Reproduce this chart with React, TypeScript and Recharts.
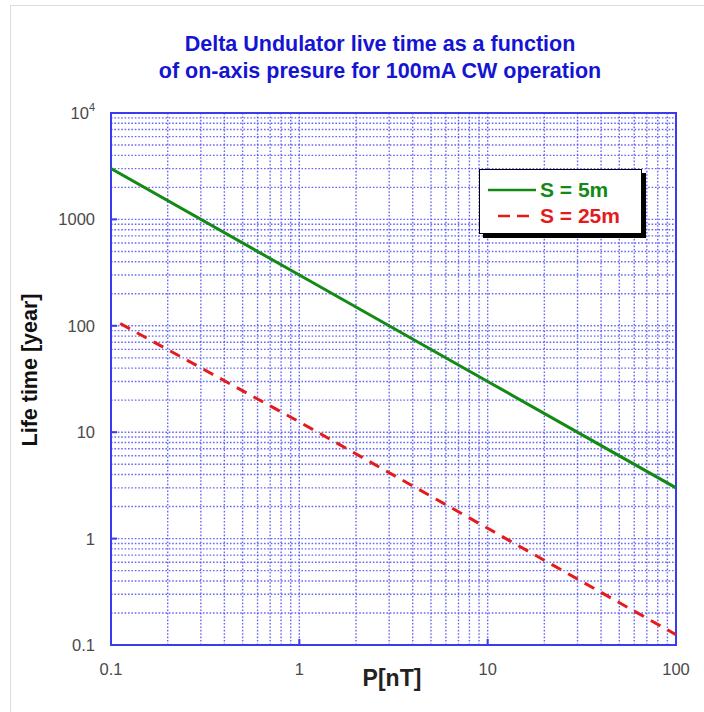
import React from 'react';
import { LineChart, Line, XAxis, YAxis, CartesianGrid, ReferenceArea } from 'recharts';

const pressureGreen = [0.1, 1, 10, 100];
const lifeGreen = [3000, 300, 30, 3];
const pressureRed = [0.112, 1, 10, 100];
const lifeRed = [105, 12.5, 1.25, 0.125];

const xMajor = [0.1, 1, 10, 100];
const yMajor = [0.1, 1, 10, 100, 1000, 10000];
const yLabels = ['0.1', '1', '10', '100', '1000', '10^4'];
const xLabels = ['0.1', '1', '10', '100'];
const minorSteps = [1, 2, 3, 4, 5, 6, 7, 8, 9];

const seriesNames = ['S = 5m', 'S = 25m'];
const title = ['Delta Undulator live time as a function', 'of on-axis presure for 100mA CW operation'];

const greenData = pressureGreen.map((p, i) => ({ p, t: lifeGreen[i] }));
const redData = pressureRed.map((p, i) => ({ p, t: lifeRed[i] }));

const buildTicks = (majors: number[]) => {
  const out: number[] = [];
  majors.forEach((m, i) => {
    if (i < majors.length - 1) minorSteps.forEach((k) => out.push(+(m * k).toPrecision(3)));
    else out.push(m);
  });
  return out;
};
const xTicks = buildTicks(xMajor);
const yTicks = buildTicks(yMajor);

const GREEN = '#138a13';
const RED = '#e51b1b';
const BLUE = '#3a3af0';
const GRID = '#4d4df2';
const FONT = '"Liberation Sans", Arial, sans-serif';

const Y_MARGIN = 16;
const X_MARGIN = 18;

const isMajor = (v: number, majors: number[]) => majors.some((m) => Math.abs(m - v) / m < 1e-6);

const YTick = (props: any) => {
  const { x, y, payload } = props;
  const v = payload.value;
  if (!isMajor(v, yMajor)) return null;
  const idx = yMajor.findIndex((m) => Math.abs(m - v) / m < 1e-6);
  const label = yLabels[idx];
  const ax = x + Y_MARGIN;
  return (
    <g>
      <line x1={ax} x2={ax + 6} y1={y} y2={y} stroke={BLUE} strokeWidth={2} />
      {label === '10^4' ? (
        <text x={x} y={y + 6} textAnchor="end" fontFamily={FONT} fontSize={16.5} fill="#4a4a4a">
          10<tspan dy={-8} fontSize={11}>4</tspan>
        </text>
      ) : (
        <text x={x} y={y + 6} textAnchor="end" fontFamily={FONT} fontSize={16.5} fill="#4a4a4a">
          {label}
        </text>
      )}
    </g>
  );
};

const XTick = (props: any) => {
  const { x, y, payload } = props;
  const v = payload.value;
  if (!isMajor(v, xMajor)) return null;
  const idx = xMajor.findIndex((m) => Math.abs(m - v) / m < 1e-6);
  const ay = y - X_MARGIN;
  return (
    <g>
      <line x1={x} x2={x} y1={ay} y2={ay - 6} stroke={BLUE} strokeWidth={2} />
      <text x={x} y={y + 12} textAnchor="middle" fontFamily={FONT} fontSize={16.5} fill="#4a4a4a">
        {xLabels[idx]}
      </text>
    </g>
  );
};

const LegendBox = () => (
  <div
    style={{
      position: 'absolute',
      left: 479,
      top: 169,
      width: 161,
      height: 63,
      background: '#fff',
      border: '1px solid #000',
      boxShadow: '4px 4px 0 #000',
      fontFamily: FONT,
      fontWeight: 'bold',
      fontSize: 21,
    }}
  >
    <div style={{ position: 'absolute', left: 8, top: 7, display: 'flex', alignItems: 'center', lineHeight: '26px' }}>
      <svg width={48} height={6}>
        <line x1={0} x2={48} y1={3} y2={3} stroke={GREEN} strokeWidth={2.5} />
      </svg>
      <span style={{ color: GREEN, marginLeft: 4 }}>{seriesNames[0]}</span>
    </div>
    <div style={{ position: 'absolute', left: 8, top: 33, display: 'flex', alignItems: 'center', lineHeight: '26px' }}>
      <svg width={48} height={6}>
        <line x1={10} x2={48} y1={3} y2={3} stroke={RED} strokeWidth={2.5} strokeDasharray="12 7" />
      </svg>
      <span style={{ color: RED, marginLeft: 4 }}>{seriesNames[1]}</span>
    </div>
  </div>
);

export default function App() {
  return (
    <div style={{ position: 'absolute', left: 0, top: 0, width: 704, height: 712, background: '#fff', overflow: 'hidden' }}>
      <div
        style={{
          position: 'absolute',
          left: 10,
          top: 5,
          width: 694,
          height: 707,
          borderLeft: '1px solid #ddd',
          borderTop: '1px solid #ddd',
        }}
      />
      <div
        style={{
          position: 'absolute',
          left: 80,
          top: 31,
          width: 600,
          textAlign: 'center',
          color: '#1414d2',
          fontFamily: FONT,
          fontWeight: 'bold',
          fontSize: 21.5,
          lineHeight: '27px',
        }}
      >
        <div>{title[0]}</div>
        <div>{title[1]}</div>
      </div>
      <div
        style={{
          position: 'absolute',
          left: 30,
          top: 370,
          transform: 'translate(-50%, -50%) rotate(-90deg)',
          whiteSpace: 'nowrap',
          fontFamily: FONT,
          fontWeight: 'bold',
          fontSize: 21.5,
          color: '#111',
        }}
      >
        Life time [year]
      </div>
      <div
        style={{
          position: 'absolute',
          left: 392,
          top: 678,
          transform: 'translate(-50%, -50%)',
          whiteSpace: 'nowrap',
          fontFamily: FONT,
          fontWeight: 'bold',
          fontSize: 23,
          color: '#222',
        }}
      >
        P[nT]
      </div>
      <div style={{ position: 'absolute', left: 0, top: 0 }}>
        <LineChart width={704} height={712} margin={{ top: 113, right: 28, bottom: 0, left: 0 }}>
          <CartesianGrid stroke={GRID} strokeWidth={1.4} strokeDasharray="1.6 1.8" strokeOpacity={0.85} />
          <XAxis
            dataKey="p"
            type="number"
            scale="log"
            domain={[0.1, 100]}
            allowDataOverflow
            ticks={xTicks}
            interval={0}
            tick={<XTick />}
            tickLine={false}
            tickSize={0}
            tickMargin={X_MARGIN}
            axisLine={false}
            height={67}
          />
          <YAxis
            dataKey="t"
            type="number"
            scale="log"
            domain={[0.1, 10000]}
            allowDataOverflow
            ticks={yTicks}
            interval={0}
            tick={<YTick />}
            tickLine={false}
            tickSize={0}
            tickMargin={Y_MARGIN}
            axisLine={false}
            width={111}
          />
          <Line
            data={greenData}
            dataKey="t"
            name={seriesNames[0]}
            stroke={GREEN}
            strokeWidth={3}
            dot={false}
            isAnimationActive={false}
          />
          <Line
            data={redData}
            dataKey="t"
            name={seriesNames[1]}
            stroke={RED}
            strokeWidth={3}
            strokeDasharray="11 8"
            dot={false}
            isAnimationActive={false}
          />
          <ReferenceArea x1={0.1} x2={100} y1={0.1} y2={10000} fill="none" stroke={BLUE} strokeWidth={2} ifOverflow="visible" />
        </LineChart>
      </div>
      <LegendBox />
    </div>
  );
}
